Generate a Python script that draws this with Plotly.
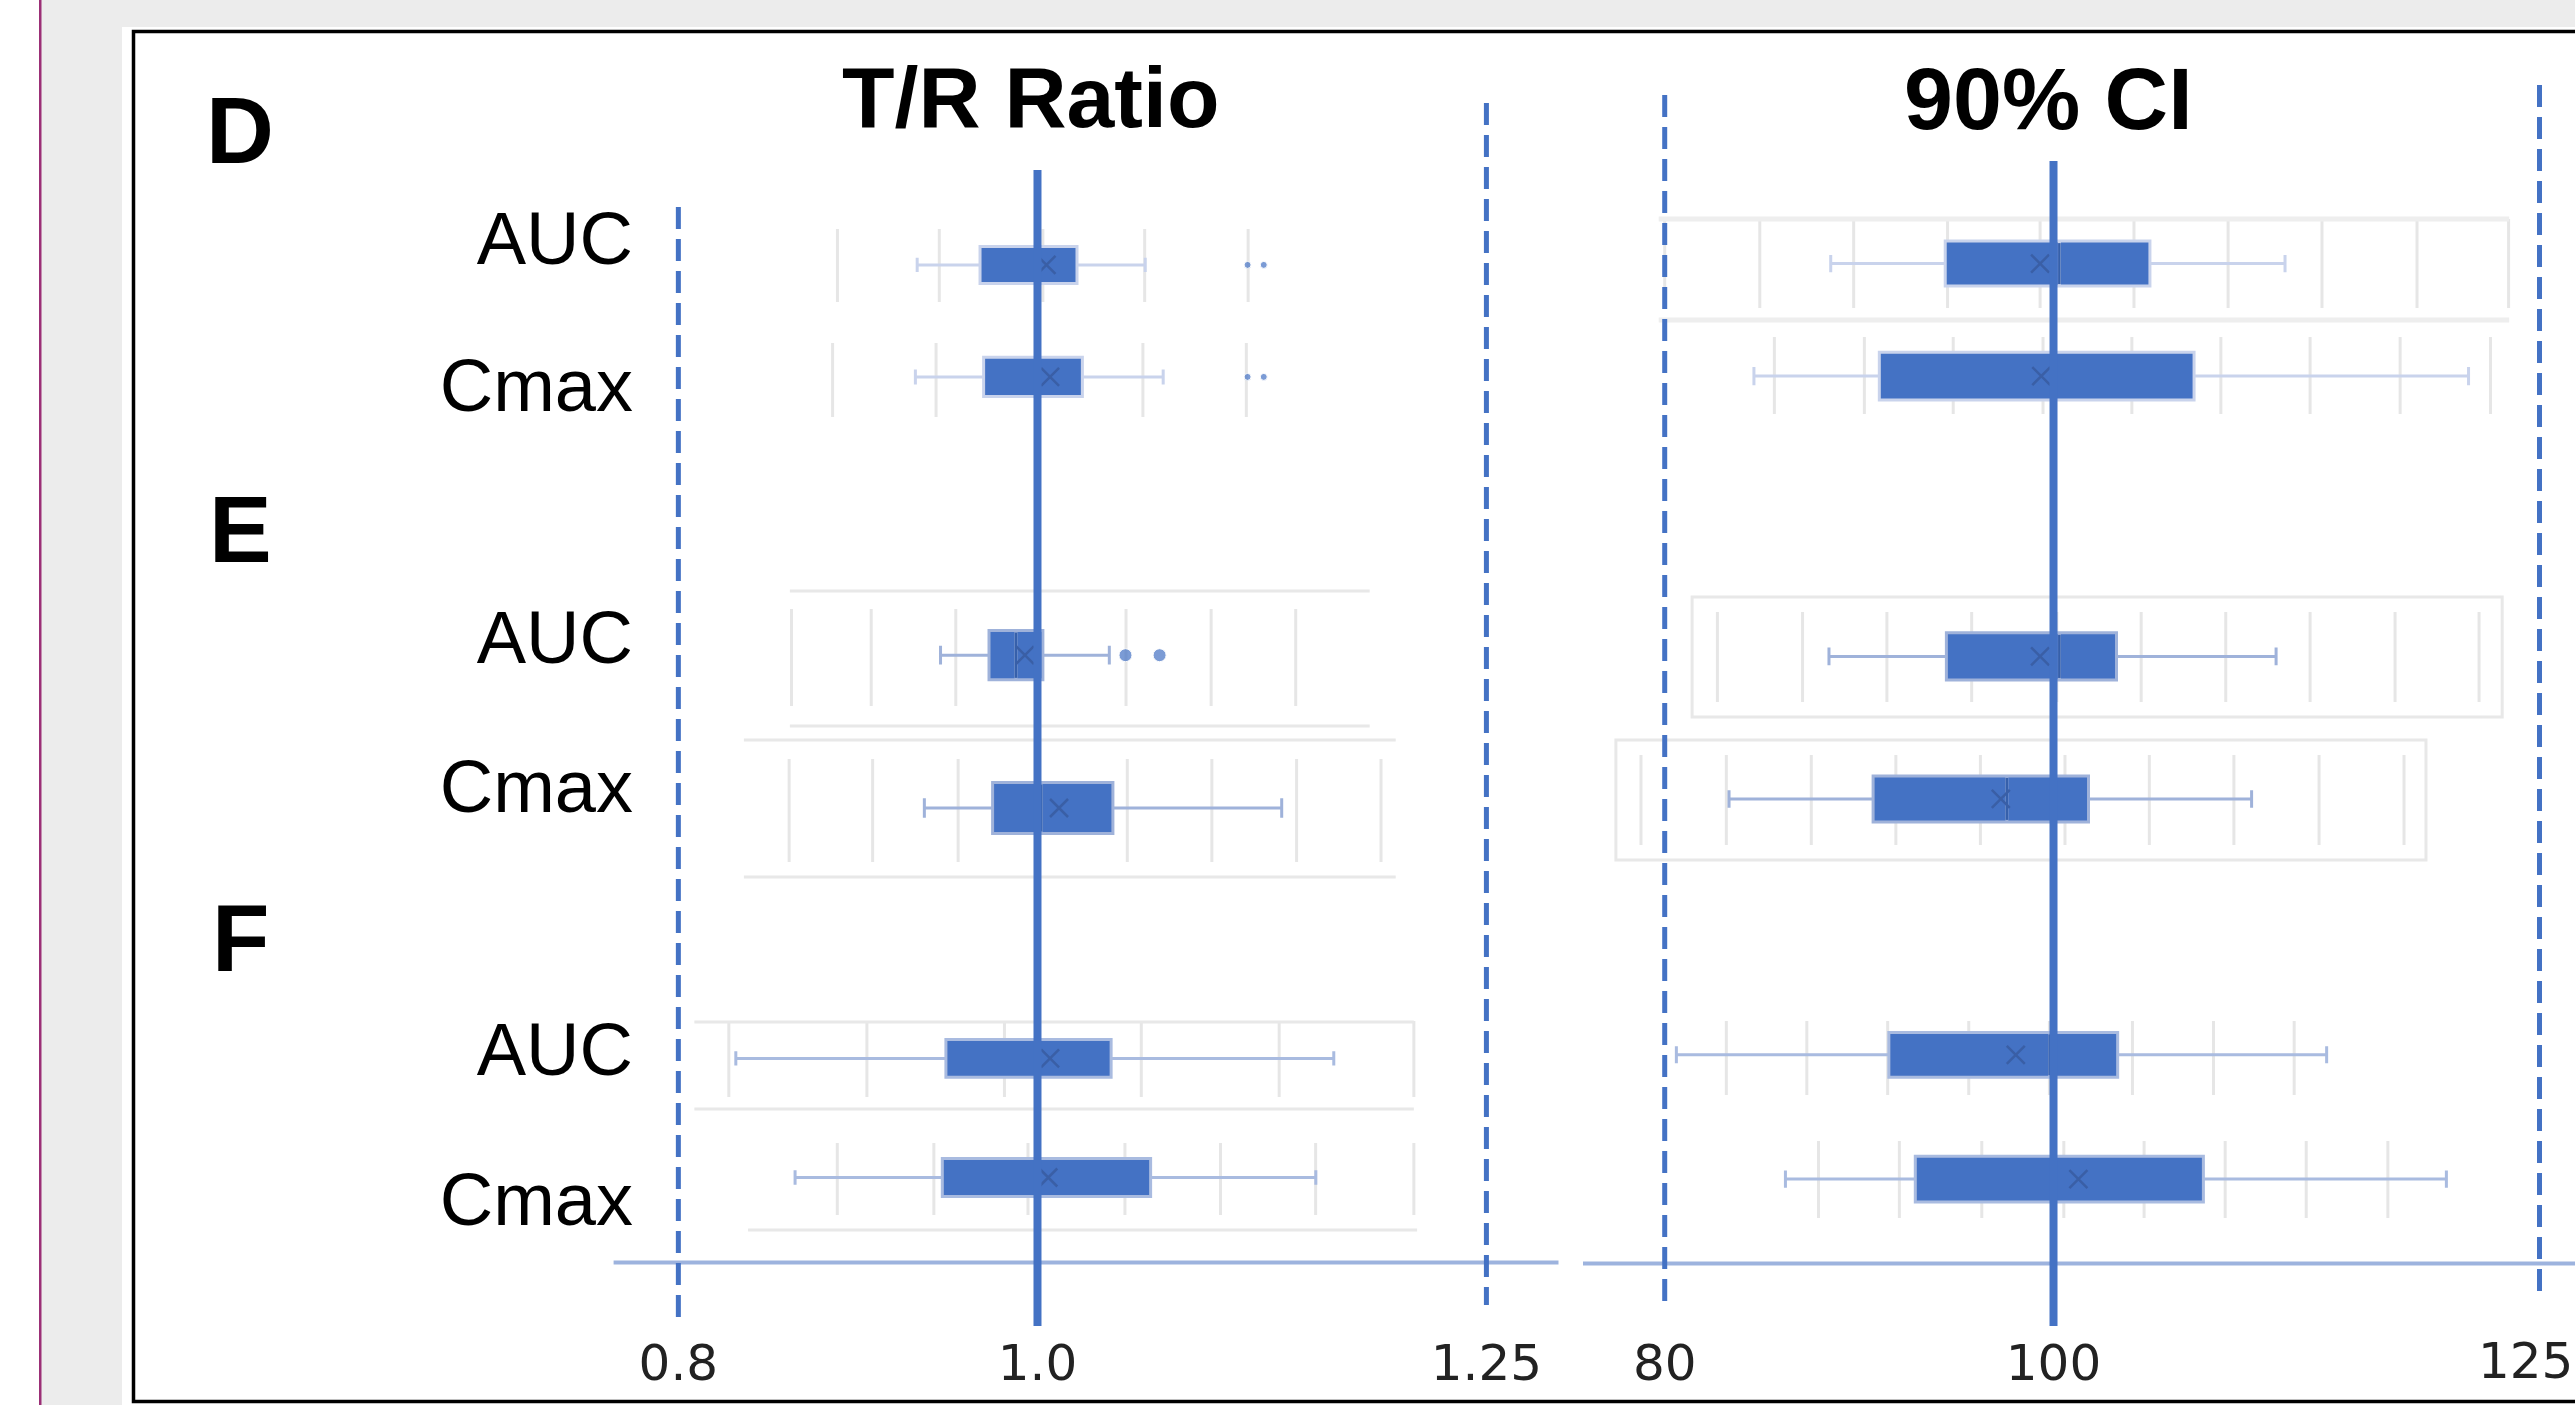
import plotly.graph_objects as go

# ---------------- data ----------------
group_labels = ["D", "E", "F"]
row_labels = ["AUC", "Cmax", "AUC", "Cmax", "AUC", "Cmax"]
panel_titles = ["T/R Ratio", "90% CI"]

# T/R ratio panel
ratio_low = [0.933, 0.932, 0.946, 0.937, 0.832, 0.865]
ratio_q1 = [0.968, 0.970, 0.973, 0.975, 0.949, 0.947]
ratio_median = [1.000, 1.000, 0.988, 1.002, 1.000, 1.000]
ratio_q3 = [1.022, 1.025, 1.003, 1.042, 1.041, 1.063]
ratio_high = [1.060, 1.070, 1.040, 1.136, 1.165, 1.155]
ratio_mean = [1.005, 1.007, 0.993, 1.012, 1.007, 1.006]
ratio_out_row = [0, 0, 1, 1, 2, 2]
ratio_out_x = [1.117, 1.126, 1.117, 1.126, 1.049, 1.068]
ratio_limits = [0.8, 1.25]
ratio_ref = 1.0
ratio_ticks = [0.8, 1.0, 1.25]
ratio_ticktext = ["0.8", "1.0", "1.25"]

# 90% CI panel
ci_low = [88.54, 84.59, 88.45, 83.31, 80.60, 86.21]
ci_q1 = [94.43, 91.04, 94.49, 90.72, 91.53, 92.89]
ci_median = [100.3, 100.0, 100.3, 97.6, 99.8, 100.0]
ci_q3 = [104.96, 107.23, 103.24, 101.80, 103.30, 107.71]
ci_high = [111.91, 121.35, 111.45, 110.19, 114.05, 120.21]
ci_mean = [99.31, 99.37, 99.31, 97.29, 98.06, 101.28]
ci_limits = [80, 125]
ci_ref = 100
ci_ticks = [80, 100, 125]
ci_ticktext = ["80", "100", "125"]

# faint gridlines of the pasted inner charts (x values per row)
ratio_grid = [
    [0.8886, 0.9453, 1.0030, 1.0597, 1.1173],
    [0.8859, 0.9435, 1.0587, 1.1163],
    [0.8630, 0.9074, 0.9545, 1.0493, 1.0967, 1.1438],
    [0.8617, 0.9082, 0.9558, 1.0500, 1.0971, 1.1443, 1.1913],
    [0.8281, 0.9050, 0.9816, 1.0578, 1.1346, 1.2096],
    [0.8885, 0.9423, 0.9947, 1.0487, 1.1019, 1.1549, 1.2096],
]
ci_grid = [
    [80.00, 84.89, 89.72, 94.55, 99.31, 104.14, 108.98, 113.81, 118.70, 123.41],
    [85.64, 90.27, 94.84, 99.46, 104.03, 108.61, 113.20, 117.83, 122.48],
    [82.71, 87.09, 91.43, 95.79, 100.17, 104.51, 108.86, 113.20, 117.57, 121.89],
    [78.78, 83.17, 87.54, 91.89, 96.24, 100.59, 104.93, 109.28, 113.66, 118.03],
    [83.17, 87.31, 91.47, 95.64, 99.79, 104.06, 108.23, 112.38],
    [87.91, 92.07, 96.31, 100.53, 104.66, 108.83, 113.00, 117.20],
]
# inner chart frame edges (x extents in data units)
ratio_frame_x = [(0.8621, 1.1850), (0.8621, 1.1850), (0.8365, 1.1995), (0.8365, 1.1995),
                 (0.8089, 1.2096), (0.8089, 1.2096), (0.8388, 1.2114)]
ci_frame_h_x = [(79.69, 123.44), (79.69, 123.44)]
ci_frame_rect_x = [(81.41, 123.08), (77.49, 119.16)]

# ---------------- layout / style ----------------
W, H = 2575, 1405
BLUE = "#4472C4"
FONT = "Liberation Sans"
TICK_FONT = "DejaVu Sans"

left_dom = [611 / W, 1557 / W]
left_range = [0.76249, 1.28931]
right_dom = [1581 / W, 1.0]
right_range = [75.694, 126.826]

row_y_left = [264.9, 376.9, 655.2, 808.0, 1058.4, 1177.5]
row_y_right = [263.6, 376.1, 656.4, 798.9, 1054.8, 1179.1]
box_h_left = [37, 39.4, 49.3, 50.9, 37.8, 37.8]
box_h_right = [45, 47.6, 47.1, 46, 44.8, 45.7]
label_y = [237.9, 385.5, 636.8, 786.5, 1049, 1198.6]
grid_y_left = [(229, 302), (343, 417), (609, 706), (759, 862), (1021, 1097), (1143, 1215)]
grid_y_right = [(219, 308), (337, 414), (612, 702), (755, 845), (1021, 1095), (1141, 1218)]
ratio_frame_y = [591, 726, 740, 877, 1022, 1109, 1230]
ci_frame_h_y = [219, 320]
ci_frame_rect_y = [(597, 717), (740, 860)]
whisker_colors = ["#c9d3ec", "#c9d3ec", "#9fb2da", "#9fb2da", "#a9bbe0", "#a9bbe0"]
TICK_Y = 1361  # centre of the x tick labels (px from top)


def fx(px):
    return px / W


def fy(py):
    return 1 - py / H


fig = go.Figure()
shapes = []

# background pieces
shapes.append(dict(type="rect", xref="paper", yref="paper", x0=fx(41), x1=fx(122), y0=0, y1=1,
                   fillcolor="#ececec", line=dict(width=0), layer="below"))
shapes.append(dict(type="rect", xref="paper", yref="paper", x0=fx(41), x1=1, y0=fy(27), y1=1,
                   fillcolor="#ececec", line=dict(width=0), layer="below"))
shapes.append(dict(type="rect", xref="paper", yref="paper", x0=fx(39), x1=fx(41.5), y0=0, y1=1,
                   fillcolor="#9b2f76", line=dict(width=0), layer="below"))
shapes.append(dict(type="rect", xref="paper", yref="paper", x0=fx(133.5), x1=fx(2600),
                   y0=fy(1401.5), y1=fy(31.5), line=dict(color="black", width=3.5),
                   fillcolor="rgba(0,0,0,0)", layer="below"))

# faint gridlines (drawn below the boxes)
for xa, grid, gy in (("x", ratio_grid, grid_y_left), ("x2", ci_grid, grid_y_right)):
    for vals, (y0, y1) in zip(grid, gy):
        for v in vals:
            shapes.append(dict(type="line", xref=xa, yref="y", x0=v, x1=v, y0=y0, y1=y1,
                               line=dict(color="#e6e6e6", width=3), layer="below"))

# inner frames
for (x0, x1), y in zip(ratio_frame_x, ratio_frame_y):
    shapes.append(dict(type="line", xref="x", yref="y", x0=x0, x1=x1, y0=y, y1=y,
                       line=dict(color="#e8e8e8", width=3), layer="below"))
for (x0, x1), y in zip(ci_frame_h_x, ci_frame_h_y):
    shapes.append(dict(type="line", xref="x2", yref="y", x0=x0, x1=x1, y0=y, y1=y,
                       line=dict(color="#eeeeee", width=5), layer="below"))
for (x0, x1), (y0, y1) in zip(ci_frame_rect_x, ci_frame_rect_y):
    shapes.append(dict(type="rect", xref="x2", yref="y", x0=x0, x1=x1, y0=y0, y1=y1,
                       line=dict(color="#e8e8e8", width=3), fillcolor="rgba(0,0,0,0)",
                       layer="below"))


def add_boxes(lo, q1, med, q3, hi, mean, rows_y, heights, xa):
    for i in range(len(q1)):
        fig.add_trace(go.Box(
            orientation="h", y=[rows_y[i]], q1=[q1[i]], median=[med[i]], q3=[q3[i]],
            lowerfence=[lo[i]], upperfence=[hi[i]], width=heights[i],
            whiskerwidth=0.38, boxpoints=False, xaxis=xa, yaxis="y",
            fillcolor=BLUE, line=dict(color=whisker_colors[i], width=3),
            hoverinfo="skip", showlegend=False))
    mx, my = [], []
    for i in range(len(med)):
        mx += [med[i], med[i], None]
        my += [rows_y[i] - heights[i] / 2 + 2, rows_y[i] + heights[i] / 2 - 2, None]
    fig.add_trace(go.Scatter(x=mx, y=my, mode="lines", xaxis=xa, yaxis="y",
                             line=dict(color="#3660ab", width=2.5),
                             hoverinfo="skip", showlegend=False))
    fig.add_trace(go.Scatter(x=mean, y=rows_y, mode="markers", xaxis=xa, yaxis="y",
                             marker=dict(symbol="x-thin", size=18,
                                         line=dict(color="#3a5fa6", width=2.5)),
                             hoverinfo="skip", showlegend=False))


add_boxes(ratio_low, ratio_q1, ratio_median, ratio_q3, ratio_high, ratio_mean,
          row_y_left, box_h_left, "x")
add_boxes(ci_low, ci_q1, ci_median, ci_q3, ci_high, ci_mean,
          row_y_right, box_h_right, "x2")

# outliers
out_size = [7, 7, 7, 7, 13, 13]
fig.add_trace(go.Scatter(x=ratio_out_x, y=[row_y_left[r] for r in ratio_out_row],
                         mode="markers", xaxis="x", yaxis="y",
                         marker=dict(color=BLUE, size=out_size),
                         hoverinfo="skip", showlegend=False))

# baselines
shapes.append(dict(type="line", xref="paper", yref="y", x0=fx(613.6), x1=fx(1558.5),
                   y0=1262.5, y1=1262.5, line=dict(color="#9db3de", width=4)))
shapes.append(dict(type="line", xref="paper", yref="y", x0=fx(1583), x1=1,
                   y0=1263.5, y1=1263.5, line=dict(color="#9db3de", width=4)))

# reference lines
dash = "22px,10px"
lim_y_left = [(207, 1325), (103, 1305)]
for v, (y0, y1) in zip(ratio_limits, lim_y_left):
    shapes.append(dict(type="line", xref="x", yref="y", x0=v, x1=v, y0=y0, y1=y1,
                       line=dict(color=BLUE, width=5, dash=dash)))
shapes.append(dict(type="line", xref="x", yref="y", x0=ratio_ref, x1=ratio_ref, y0=170, y1=1326,
                   line=dict(color=BLUE, width=8)))
lim_y_right = [(95, 1302), (85, 1300)]
for v, (y0, y1) in zip(ci_limits, lim_y_right):
    shapes.append(dict(type="line", xref="x2", yref="y", x0=v, x1=v, y0=y0, y1=y1,
                       line=dict(color=BLUE, width=5, dash=dash)))
shapes.append(dict(type="line", xref="x2", yref="y", x0=ci_ref, x1=ci_ref, y0=161, y1=1326,
                   line=dict(color=BLUE, width=8)))

annotations = []
for g, yc in zip(group_labels, [131, 529, 938]):
    annotations.append(dict(text=g, x=fx(240), y=fy(yc), xref="paper", yref="paper",
                            xanchor="center", yanchor="middle", showarrow=False,
                            font=dict(family=FONT, size=94, color="black", weight="bold")))
for t, xc, yc, sz in zip(panel_titles, [1030, 2048], [97, 98], [86, 88]):
    annotations.append(dict(text=t, x=fx(xc), y=fy(yc), xref="paper", yref="paper",
                            xanchor="center", yanchor="middle", showarrow=False,
                            font=dict(family=FONT, size=sz, color="black", weight="bold")))
# the last tick label of the CI axis sits at the right edge of the page
annotations.append(dict(text=ci_ticktext[-1], x=1, y=fy(TICK_Y), xref="paper", yref="paper",
                        xanchor="right", yanchor="middle", showarrow=False,
                        font=dict(family=TICK_FONT, size=50, color="#222222")))

axis_common = dict(showgrid=False, zeroline=False, showline=False,
                   ticks="inside", ticklen=22, tickcolor="rgba(0,0,0,0)",
                   ticklabelposition="inside", ticklabeloverflow="allow",
                   tickfont=dict(family=TICK_FONT, size=50, color="#222222"), anchor="y")

fig.update_layout(
    width=W, height=H,
    margin=dict(l=0, r=0, t=0, b=0),
    paper_bgcolor="white", plot_bgcolor="rgba(0,0,0,0)",
    xaxis=dict(domain=left_dom, range=left_range, tickmode="array",
               tickvals=ratio_ticks, ticktext=ratio_ticktext, **axis_common),
    xaxis2=dict(domain=right_dom, range=right_range, tickmode="array",
                tickvals=ci_ticks[:-1], ticktext=ci_ticktext[:-1], **axis_common),
    yaxis=dict(domain=[0, 1], range=[H, 0], anchor="free", position=633 / W,
               showgrid=False, zeroline=False, showline=False, ticks="",
               tickmode="array", tickvals=label_y, ticktext=row_labels,
               tickfont=dict(family=FONT, size=74, color="black")),
    shapes=shapes, annotations=annotations,
    hovermode=False, boxmode="overlay",
)

fig.write_html("out.html", config={"displayModeBar": False},
               post_script="document.body.style.margin='0';document.body.style.overflow='hidden';")
